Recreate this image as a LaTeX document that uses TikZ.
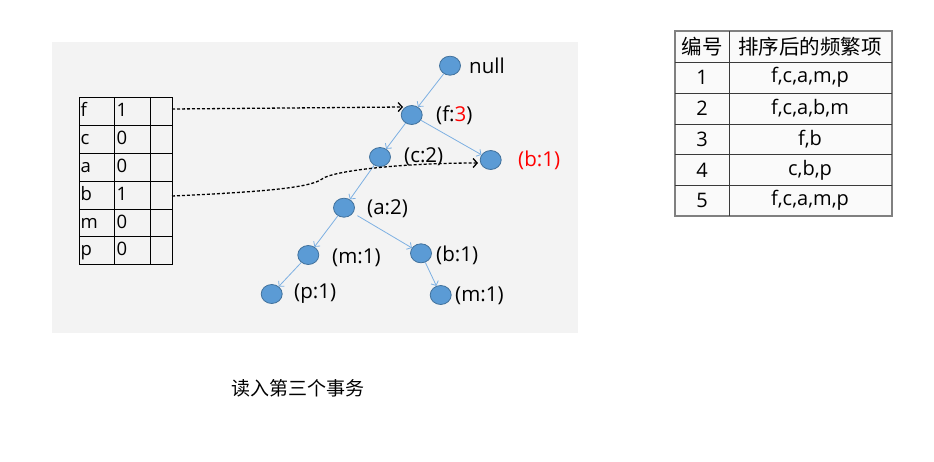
\documentclass[tikz,border=0pt]{standalone}
\usepackage{fontspec}
\setmainfont{Open Sans}
\newfontfamily\cjk{Noto Sans CJK SC}
\usetikzlibrary{shapes.geometric,arrows.meta}
\definecolor{nodefill}{HTML}{5B9BD5}
\definecolor{nodeborder}{HTML}{41719C}
\definecolor{edgeblue}{HTML}{7DB0E2}
\definecolor{panelgray}{HTML}{F3F3F3}
\definecolor{tablegray}{HTML}{FAFAFA}
\definecolor{lineg}{HTML}{3A3A3A}
\begin{document}
\begin{tikzpicture}[x=1pt,y=-1pt,
  tnode/.style={ellipse,fill=nodefill,draw=nodeborder,line width=0.8pt,minimum width=21pt,minimum height=19pt,inner sep=0},
  tlabel/.style={font=\fontsize{20.5}{24}\selectfont,inner sep=0,anchor=west},
  tedge/.style={draw=edgeblue,line width=0.8pt,-{Straight Barb[length=3.5pt,width=8pt]}},
  link/.style={draw=black,line width=1.3pt,dash pattern=on 3pt off 2pt,-{Straight Barb[length=4pt,width=9pt]}},
  cell/.style={font=\fontsize{18.5}{22}\selectfont,inner sep=0,anchor=base west},
  tcell/.style={font=\fontsize{20}{24}\selectfont,inner sep=0},
]
\useasboundingbox (0,0) rectangle (934,461);
\fill[white] (0,0) rectangle (934,461);
\fill[panelgray] (52,42) rectangle (578,333);

% header table (left)
\draw[black,line width=1pt] (79,97.3) rectangle (172.5,264.3);
\foreach \y in {125.3,153.3,181,209,236.7} \draw[black,line width=1pt] (79,\y) -- (172.5,\y);
\draw[black,line width=1pt] (114.5,97.3) -- (114.5,264.3);
\draw[black,line width=1pt] (150,97.3) -- (150,264.3);
\node[cell] (kf) at (80.5,116.3) {f};
\node[cell] (kc) at (80.5,144.3) {c};
\node[cell] (ka) at (80.5,172) {a};
\node[cell] (kb) at (80.5,200) {b};
\node[cell] (km) at (80.5,228) {m};
\node[cell] (kp) at (80.5,255.7) {p};
\node[cell] (vf) at (116.5,116.3) {1};
\node[cell] (vc) at (116.5,144.3) {0};
\node[cell] (va) at (116.5,172) {0};
\node[cell] (vb) at (116.5,200) {1};
\node[cell] (vm) at (116.5,228) {0};
\node[cell] (vp) at (116.5,255.7) {0};

% tree nodes
\node[tnode] (null) at (450,65.7) {};
\node[tnode] (f) at (411.7,115) {};
\node[tnode] (c) at (380,157) {};
\node[tnode] (b1) at (490.7,160) {};
\node[tnode] (a) at (344,207.7) {};
\node[tnode] (m1) at (308.3,255) {};
\node[tnode] (b) at (421,253.3) {};
\node[tnode] (p) at (271.7,294) {};
\node[tnode] (m2) at (440.7,295) {};

% labels
\node[tlabel] (lnull) at (469,66) {null};
\node[tlabel] (lf) at (436,115) {(f:\textcolor{red}{3})};
\node[tlabel] (lc) at (404,157) {(c:2)};
\node[tlabel,text=red] (lb1) at (518,160) {(b:1)};
\node[tlabel] (la) at (367,209) {(a:2)};
\node[tlabel] (lm1) at (332,258) {(m:1)};
\node[tlabel] (lb) at (436,255) {(b:1)};
\node[tlabel] (lp) at (294,294) {(p:1)};
\node[tlabel] (lm2) at (455,296) {(m:1)};

% tree edges
\draw[tedge] (null) -- (f);
\draw[tedge] (f) -- (c);
\draw[tedge] (f) -- (b1);
\draw[tedge] (c) -- (a);
\draw[tedge] (a) -- (m1);
\draw[tedge,shorten <=5pt] (a) -- (b);
\draw[tedge] (m1) -- (p);
\draw[tedge] (b) -- (m2);

% dashed links
\coordinate (fsrc) at (172,109);
\coordinate (ftip) at (403,107);
\coordinate (bsrc) at (172,196);
\coordinate (bmid) at (322,179);
\coordinate (btip) at (478,163);
\draw[link] (fsrc) -- (ftip);
\draw[link] (bsrc) .. controls (260,192) and (310,188) .. (bmid) .. controls (332,171) and (400,163) .. (btip);

% transaction table (right)
\fill[tablegray] (675,31) rectangle (892,216);
\draw[gray,line width=1.6pt] (675,31) rectangle (892,216);
\draw[lineg,line width=1.2pt] (675,62.3) -- (892,62.3);
\foreach \y in {93.3,124,154.3,185} \draw[lineg,line width=1pt] (675,\y) -- (892,\y);
\draw[lineg,line width=1pt] (729.5,31) -- (729.5,216);
\node[tcell,font=\cjk\fontsize{20.5}{24}\selectfont] (h1) at (702,46.5) {编号};
\node[tcell,font=\cjk\fontsize{20.5}{24}\selectfont] (h2) at (810,46.5) {排序后的频繁项};
\node[tcell] (n1) at (702,77.5) {1};
\node[tcell] (t1) at (810,77.5) {f,c,a,m,p};
\node[tcell] (n2) at (702,108.5) {2};
\node[tcell] (t2) at (810,108.5) {f,c,a,b,m};
\node[tcell] (n3) at (702,139) {3};
\node[tcell] (t3) at (810,139) {f,b};
\node[tcell] (n4) at (702,170) {4};
\node[tcell] (t4) at (810,170) {c,b,p};
\node[tcell] (n5) at (702,200.5) {5};
\node[tcell] (t5) at (810,200.5) {f,c,a,m,p};

% caption
\node[font=\cjk\fontsize{19}{22}\selectfont,inner sep=0] (cap) at (298,388) {读入第三个事务};
\end{tikzpicture}
\end{document}
